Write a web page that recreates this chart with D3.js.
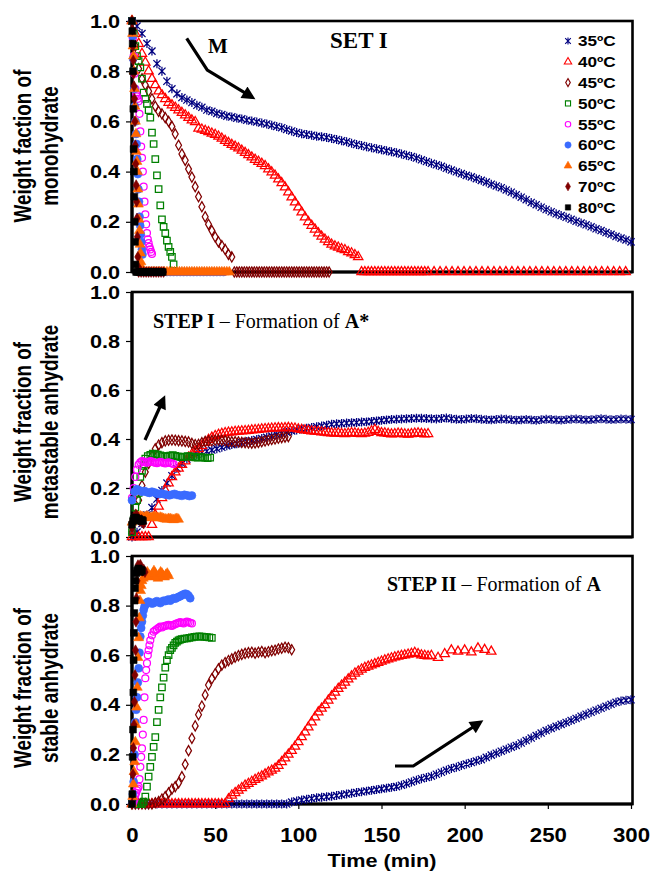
<!DOCTYPE html>
<html>
<head>
<meta charset="utf-8">
<script src="https://cdn.jsdelivr.net/npm/d3@7"></script>
<style>
  body { margin: 0; background: #fff; }
  svg { display: block; }
</style>
</head>
<body>
<svg id="chart" width="650" height="880"></svg>
<script>
// ---------------------------------------------------------------------------
// Data: dehydration kinetics, weight fractions vs. time (min).
// Each series is a list of segments [startTime, timeStep, values].
// ---------------------------------------------------------------------------
const seriesLabels = ["35ºC", "40ºC", "45ºC", "50ºC", "55ºC", "60ºC", "65ºC", "70ºC", "80ºC"];
const xTickValues = [0, 50, 100, 150, 200, 250, 300];
const yTickValues = [0, 0.2, 0.4, 0.6, 0.8, 1.0];

// --- Monohydrate (SET I) ---
const mono35 = [[0, 3, [1.0,0.98,0.95,0.91,0.88,0.83,0.8,0.76,0.73,0.71,
  0.695,0.685,0.675,0.664,0.656,0.645,0.64,0.632,0.627,0.621,
  0.618,0.613,0.61,0.605,0.602,0.598,0.594,0.59,0.585,0.58,
  0.575,0.568,0.562,0.556,0.551,0.548,0.545,0.541,0.539,0.536,
  0.532,0.528,0.523,0.519,0.513,0.508,0.504,0.499,0.495,0.491,
  0.487,0.483,0.479,0.475,0.47,0.465,0.46,0.454,0.447,0.44,
  0.433,0.427,0.421,0.413,0.406,0.399,0.392,0.385,0.379,0.372,
  0.365,0.358,0.35,0.343,0.336,0.327,0.318,0.308,0.298,0.288,
  0.277,0.268,0.258,0.249,0.24,0.232,0.225,0.218,0.21,0.202,
  0.195,0.188,0.18,0.172,0.165,0.157,0.15,0.142,0.135,0.128,0.12]]];
const mono40 = [
  [0, 2, [1.0,0.95,0.91,0.87,0.835,0.8,0.77,0.745,0.72,0.705,
    0.69,0.675,0.665,0.655,0.645,0.635,0.625,0.615,0.605,0.598,
    0.572,0.568,0.563,0.558,0.552,0.547,0.54,0.532,0.523,0.515,
    0.507,0.5,0.493,0.484,0.475,0.466,0.457,0.448,0.44,0.432,
    0.423,0.41,0.398,0.385,0.37,0.355,0.338,0.318,0.298,0.278,
    0.258,0.238,0.218,0.2,0.185,0.17,0.155,0.142,0.13,0.12,
    0.11,0.103,0.098,0.092,0.088,0.08,0.075,0.068,0.06]],
  [138, 2, [0,0,0,0,0,0,0,0,0,0,0,0,0,0,0,0,0,0,0,0,0]],
  [181.6, 3.6, [0,0,0,0,0,0,0,0,0,0,0,0,0,0,0,0,0,0,0,0,0,0,0,0,0,0,0,0,0,0,0,0,0]]
];
const mono45 = [
  [0, 2, [1.0,0.9,0.81,0.77,0.745,0.72,0.69,0.66,0.64,0.63,
    0.615,0.6,0.58,0.55,0.505,0.47,0.445,0.41,0.378,0.34,
    0.3,0.26,0.22,0.19,0.165,0.14,0.12,0.105,0.09,0.07,0.06]],
  [61.5, 1.5, [0,0,0,0,0,0,0,0,0,0,0,0,0,0,0,0,0,0,0,0,0,0,0,0,0,0,0,0,0,0,0,0,0,0,0,0,0,0,0]]
];
const mono50 = [
  [0, 1, [1.0,0.95,0.9,0.86,0.84,0.815,0.77,0.715,0.69,0.67,
    0.645,0.615,0.555,0.51,0.45,0.385,0.33,0.265,0.21,0.18,
    0.155,0.125,0.1,0.08,0.06,0.03]],
  [26.5, 1.5, [0,0,0,0,0,0,0,0,0,0,0,0,0,0,0,0]]
];
const mono55 = [
  [0, 0.5, [1.0,0.93,0.86,0.79,0.73,0.71,0.7,0.69,0.68,0.63,
    0.56,0.5,0.455,0.4,0.34,0.28,0.23,0.19,0.155,0.13,
    0.115,0.1,0.09,0.08,0.072]],
  [13, 2, [0,0,0,0,0,0,0,0,0,0,0,0,0,0,0,0,0,0,0,0,0,0]]
];
const mono60 = [
  [0, 0.35, [1.0,0.94,0.85,0.8,0.73,0.66,0.6,0.55,0.51,0.45,
    0.39,0.33,0.28,0.22,0.185,0.15,0.12,0.09,0.07]],
  [7, 2, [0,0,0,0,0,0,0,0,0,0,0,0,0,0,0,0,0,0,0,0,0,0,0,0,0]]
];
const mono65 = [
  [0, 0.3, [1.0,0.95,0.9,0.86,0.8,0.73,0.66,0.6,0.55,0.48,
    0.44,0.4,0.33,0.27,0.21,0.165,0.11,0.075,0.04,0.02]],
  [6, 1.5, [0,0,0,0,0,0,0,0,0,0,0,0,0,0,0,0,0,0,0,0,0,0,0,0,0,0,0,0,0,0,0,0,0,0,0,0]]
];
const mono70 = [
  [0, 0.25, [1.0,0.965,0.9,0.843,0.79,0.74,0.69,0.6,0.505,0.43,
    0.346,0.28,0.213,0.14,0.06,0.02]],
  [4, 1.5, [0,0,0,0,0,0,0,0,0,0,0]]
];
const mono80 = [
  [0, 0.2, [1.0,0.96,0.91,0.8,0.65,0.49,0.4,0.3,0.2,0.12,0.03]],
  [2.5, 1, [0,0,0,0,0,0,0,0,0,0,0,0,0,0,0,0,0]]
];

// --- Metastable anhydrate A* (STEP I) ---
const meta35 = [[0, 3, [0,0.02,0.055,0.09,0.12,0.155,0.19,0.22,0.25,0.28,
  0.3,0.318,0.33,0.338,0.344,0.35,0.355,0.36,0.366,0.372,
  0.377,0.381,0.385,0.39,0.394,0.398,0.402,0.407,0.412,0.418,
  0.423,0.428,0.433,0.437,0.441,0.444,0.447,0.45,0.453,0.456,
  0.46,0.462,0.463,0.465,0.466,0.467,0.469,0.47,0.472,0.474,
  0.476,0.478,0.48,0.481,0.482,0.483,0.484,0.485,0.485,0.484,
  0.483,0.482,0.484,0.486,0.483,0.481,0.48,0.482,0.484,0.483,
  0.481,0.479,0.478,0.48,0.482,0.481,0.479,0.477,0.478,0.48,
  0.478,0.476,0.479,0.481,0.48,0.478,0.477,0.479,0.481,0.482,
  0.48,0.478,0.479,0.481,0.483,0.481,0.479,0.48,0.482,0.481,0.48]]];
const meta40 = [[0, 2, [0,0,0,0,0,0,0.05,0.09,0.125,0.16,
  0.19,0.22,0.245,0.265,0.28,0.295,0.31,0.325,0.338,0.35,
  0.36,0.372,0.385,0.397,0.406,0.413,0.418,0.422,0.425,0.427,
  0.428,0.43,0.431,0.432,0.433,0.434,0.436,0.437,0.438,0.44,
  0.441,0.442,0.443,0.444,0.445,0.444,0.445,0.446,0.444,0.443,
  0.44,0.438,0.436,0.434,0.432,0.431,0.43,0.428,0.427,0.425,
  0.424,0.423,0.424,0.422,0.421,0.423,0.425,0.424,0.422,0.421,
  0.423,0.426,0.432,0.438,0.43,0.425,0.424,0.422,0.42,0.421,
  0.423,0.422,0.42,0.419,0.421,0.423,0.424,0.422,0.42,0.421]]];
const meta45 = [[0, 2, [0.02,0.09,0.15,0.21,0.265,0.3,0.33,0.36,0.375,0.385,
  0.392,0.395,0.396,0.395,0.393,0.392,0.39,0.388,0.382,0.377,
  0.378,0.385,0.39,0.392,0.393,0.395,0.396,0.395,0.393,0.39,
  0.389,0.389,0.388,0.386,0.385,0.384,0.383,0.384,0.386,0.389,
  0.392,0.395,0.398,0.4,0.403,0.406,0.408,0.41]]];
const meta50 = [
  [0, 1, [0.02,0.07,0.12,0.15,0.18,0.245,0.27,0.29,0.32]],
  [9.5, 1.5, [0.33,0.335,0.34,0.338,0.336,0.333,0.33,0.328,0.33,0.332,
    0.334,0.331,0.329,0.327,0.326,0.328,0.33,0.329,0.327,0.325,
    0.324,0.326,0.325,0.323,0.322,0.324]]
];
const meta55 = [[0, 1, [0.16,0.2,0.245,0.275,0.295,0.305,0.31,0.308,0.305,0.303,
  0.306,0.31,0.308,0.305,0.303,0.301,0.304,0.307,0.305,0.302,
  0.3,0.303,0.305,0.302,0.3,0.298]]];
const meta60 = [[0, 1.5, [0.15,0.185,0.195,0.19,0.185,0.188,0.183,0.18,0.185,0.182,
  0.178,0.175,0.178,0.174,0.172,0.17,0.173,0.176,0.172,0.17,
  0.168,0.172,0.17,0.167,0.169]]];
const meta65 = [[0, 1, [0.06,0.07,0.075,0.08,0.082,0.085,0.083,0.08,0.082,0.084,
  0.081,0.078,0.08,0.083,0.082,0.079,0.077,0.08,0.078,0.075,
  0.073,0.072,0.075,0.074,0.072,0.07,0.073,0.075,0.072]]];
const meta70 = [[0, 0.7, [0.04,0.06,0.075,0.085,0.09,0.08,0.07,0.065,0.07,0.06,0.055]]];
const meta80 = [[0, 0.6, [0.05,0.065,0.075,0.08,0.078,0.072,0.07,0.074,0.068,0.065,0.07,0.066]]];

// --- Stable anhydrate A (STEP II) ---
const stab35 = [[0, 3, [0,0,0,0,0,0,0,0,0,0,0,0,0,0,0,0,0,0,0,0,0,0,0,0,0,0,0,0,0,0,0,0,
  0.008,0.012,0.016,0.019,0.022,0.025,0.027,0.029,0.031,0.034,
  0.037,0.04,0.043,0.046,0.049,0.052,0.055,0.058,0.061,0.064,
  0.067,0.07,0.076,0.082,0.089,0.096,0.102,0.107,0.112,0.12,
  0.128,0.136,0.143,0.148,0.155,0.161,0.167,0.173,0.179,0.188,
  0.197,0.205,0.213,0.221,0.229,0.236,0.246,0.256,0.266,0.276,
  0.286,0.296,0.305,0.313,0.321,0.329,0.337,0.345,0.354,0.362,
  0.37,0.378,0.386,0.394,0.402,0.41,0.415,0.418,0.42]]];
const stab40 = [
  [0, 2, [0,0,0,0,0,0,0,0,0,0,0,0,0,0,0,0,0,0,0,0,0,0,0,0,0,0,0,0,0,
    0.02,0.035,0.045,0.055,0.065,0.075,0.082,0.09,0.098,0.105,
    0.112,0.12,0.128,0.135,0.143,0.155,0.17,0.185,0.2,0.215,
    0.232,0.25,0.27,0.29,0.31,0.33,0.35,0.37,0.385,0.4,
    0.418,0.435,0.45,0.465,0.478,0.49,0.503,0.515,0.527,0.535,
    0.543,0.55,0.555,0.56,0.565,0.57,0.575,0.58,0.584,0.588,
    0.592,0.595,0.598,0.6,0.603,0.606,0.61,0.605,0.6,0.598,
    0.596,0.598]],
  [184, 4, [0.59,0.605,0.62,0.615,0.62,0.612,0.628,0.622,0.615]]
];
const stab45 = [[0, 2, [0,0,0,0,0,0,0,0.005,0.01,0.02,
  0.03,0.045,0.06,0.07,0.085,0.11,0.16,0.215,0.265,0.315,
  0.36,0.395,0.44,0.48,0.505,0.525,0.545,0.56,0.57,0.578,
  0.585,0.592,0.598,0.603,0.607,0.61,0.612,0.608,0.612,0.615,
  0.61,0.614,0.618,0.62,0.625,0.628,0.632,0.63,0.622]]];
const stab50 = [
  [0, 1, [0,0,0,0,0,0,0,0.01,0.03,0.07,
    0.11,0.15,0.19,0.23,0.27,0.33,0.38,0.43,0.47,0.51,
    0.55,0.58,0.6,0.62,0.63,0.64,0.65,0.655,0.66,0.663,0.665]],
  [31.5, 1.5, [0.667,0.668,0.67,0.672,0.674,0.675,0.676,0.675,0.674,0.673,0.672,0.67]]
];
const stab55 = [
  [0, 0.5, [0,0,0.01,0.02,0.036,0.045,0.055,0.062,0.07,0.1,
    0.15,0.19,0.224,0.28,0.339,0.43,0.507,0.54,0.568,0.6,
    0.62,0.64,0.66]],
  [12, 1, [0.68,0.695,0.7,0.705,0.71,0.715,0.712,0.716,0.718,0.72,
    0.722,0.72,0.718,0.722,0.725,0.728,0.73,0.733,0.73,0.728,
    0.732,0.735,0.733,0.73,0.728]]
];
const stab60 = [
  [0, 0.5, [0,0.04,0.09,0.2,0.33,0.38,0.43,0.49,0.547,0.61,
    0.675,0.71,0.735,0.76,0.782,0.795,0.803,0.81,0.812,0.815,0.816]],
  [11, 1, [0.812,0.808,0.81,0.815,0.818,0.814,0.81,0.816,0.82,0.818,
    0.822,0.825,0.82,0.826,0.83,0.828,0.832,0.835,0.838,0.842,
    0.845,0.848,0.846,0.84,0.83]]
];
const stab65 = [
  [0, 0.4, [0,0.03,0.08,0.13,0.17,0.25,0.32,0.39,0.47,0.59,
    0.67,0.75,0.82,0.86,0.88,0.9]],
  [6.8, 0.8, [0.91,0.92,0.93,0.935,0.925,0.915,0.92,0.93,0.94,0.93,
    0.92,0.91,0.925,0.935,0.93,0.92,0.915,0.925,0.93,0.92]]
];
const stab70 = [
  [0, 0.3, [0,0.04,0.12,0.226,0.32,0.412,0.52,0.62,0.735,0.83,0.9,0.94,0.963]],
  [4.3, 0.7, [0.955,0.965,0.95,0.94,0.945,0.935]]
];
const stab80 = [
  [0, 0.2, [0,0.04,0.19,0.3,0.45,0.58,0.69,0.77,0.82,0.87,0.9]],
  [2.5, 0.5, [0.93,0.94,0.945,0.95,0.94,0.935,0.945,0.94]]
];

const monoSeries = [mono35, mono40, mono45, mono50, mono55, mono60, mono65, mono70, mono80];
const metaSeries = [meta35, meta40, meta45, meta50, meta55, meta60, meta65, meta70, meta80];
const stabSeries = [stab35, stab40, stab45, stab50, stab55, stab60, stab65, stab70, stab80];

// ---------------------------------------------------------------------------
// Appearance
// ---------------------------------------------------------------------------
// Asterisk-style marker: an "x" crossed by a vertical bar.
const symbolStar = {
  draw(ctx, size) {
    const r = Math.sqrt(size) / 2;
    const d = r * 0.8;
    ctx.moveTo(0, -r); ctx.lineTo(0, r);
    ctx.moveTo(-d, -d); ctx.lineTo(d, d);
    ctx.moveTo(-d, d); ctx.lineTo(d, -d);
  }
};

const markerStyles = [
  { type: symbolStar,         color: "#000080", filled: false, size: 80 },
  { type: d3.symbolTriangle,  color: "#ff0000", filled: false, size: 38 },
  { type: d3.symbolDiamond,   color: "#800000", filled: false, size: 30 },
  { type: d3.symbolSquare,    color: "#008000", filled: false, size: 42 },
  { type: d3.symbolCircle,    color: "#ff00ff", filled: false, size: 38 },
  { type: d3.symbolCircle,    color: "#3a6bff", filled: true,  size: 50 },
  { type: d3.symbolTriangle,  color: "#ff6600", filled: true,  size: 42 },
  { type: d3.symbolDiamond,   color: "#800000", filled: true,  size: 34 },
  { type: d3.symbolSquare,    color: "#000000", filled: true,  size: 46 }
];
const legendMarkerScale = 0.62;

const plotLeft = 132, plotRight = 631, frameRight = 632.5;
const panelBoxes = [
  { top: 21,  bottom: 272, series: monoSeries, title: ["Weight faction of", "monohydrate"], titleY: 146, xLabels: false },
  { top: 292, bottom: 537, series: metaSeries, title: ["Weight fraction of", "metastable anhydrate"], titleY: 422, xLabels: false },
  { top: 556, bottom: 804, series: stabSeries, title: ["Weight fraction of", "stable anhydrate"], titleY: 688, xLabels: true }
];

const sansBold = "'Liberation Sans', Arial, Helvetica, sans-serif";
const serif = "'Liberation Serif', 'Times New Roman', Times, serif";

// Expand segment lists into {t, v} points.
function expand(segments) {
  const pts = [];
  segments.forEach(([t0, dt, vals]) => {
    vals.forEach((v, i) => pts.push({ t: t0 + i * dt, v }));
  });
  return pts;
}

const svg = d3.select("#chart");
const x = d3.scaleLinear().domain([0, 300]).range([plotLeft, plotRight]);

// Arrowhead definition for annotation arrows
svg.append("defs").append("marker")
  .attr("id", "arrowhead")
  .attr("viewBox", "0 0 10 10")
  .attr("refX", 7).attr("refY", 5)
  .attr("markerWidth", 4.8).attr("markerHeight", 4.2)
  .attr("orient", "auto")
  .attr("markerUnits", "strokeWidth")
  .append("path").attr("d", "M0,0 L10,5 L0,10 Z").attr("fill", "#000");

panelBoxes.forEach(panel => {
  const y = d3.scaleLinear().domain([0, 1]).range([panel.bottom, panel.top]);
  const g = svg.append("g");

  // Frame
  g.append("rect")
    .attr("x", plotLeft).attr("y", panel.top)
    .attr("width", frameRight - plotLeft).attr("height", panel.bottom - panel.top)
    .attr("fill", "none").attr("stroke", "#000").attr("stroke-width", 2.6);

  // Y axis
  const yAxis = g.append("g")
    .attr("transform", `translate(${plotLeft},0)`)
    .call(d3.axisLeft(y).tickValues(yTickValues).tickFormat(d3.format(".1f")).tickSize(6).tickPadding(6));
  yAxis.select(".domain").attr("stroke-width", 3.2).attr("d", `M0,${panel.top}V${panel.bottom}`);
  yAxis.selectAll(".tick line").attr("stroke-width", 1.2);
  yAxis.selectAll(".tick text")
    .attr("font-family", sansBold).attr("font-weight", "bold").attr("font-size", 19)
    .attr("fill", "#000")
    .attr("transform", "scale(1.14,1)")
    .attr("x", -12 / 1.14);

  // X axis line (bottom of panel)
  const xAxis = g.append("g")
    .attr("transform", `translate(0,${panel.bottom})`)
    .call(d3.axisBottom(x).tickValues(xTickValues).tickSize(panel.xLabels ? 5 : 0).tickPadding(panel.xLabels ? 19 : 0));
  xAxis.select(".domain").attr("stroke-width", 3.2).attr("d", `M${plotLeft},0H${frameRight}`);
  xAxis.selectAll(".tick line").attr("stroke-width", 1.2);
  if (panel.xLabels) {
    xAxis.selectAll(".tick text")
      .attr("font-family", sansBold).attr("font-weight", "bold").attr("font-size", 19.5)
      .attr("fill", "#000")
      .attr("transform", "scale(1.14,1)");
  } else {
    xAxis.selectAll(".tick text").remove();
  }

  // Y axis title (two lines, rotated; glyphs drawn slightly condensed)
  panel.title.forEach((line, i) => {
    svg.append("text")
      .attr("transform", `translate(${i === 0 ? 31 : 58},${panel.titleY}) rotate(-90) scale(0.9,1.12)`)
      .attr("text-anchor", "middle")
      .attr("font-family", sansBold).attr("font-weight", "bold").attr("font-size", 21)
      .attr("fill", "#000")
      .text(line);
  });

  // Data markers, drawn 35ºC first so the hotter runs sit on top
  panel.series.forEach((segments, si) => {
    const st = markerStyles[si];
    const sym = d3.symbol().type(st.type).size(st.size);
    g.append("g").selectAll("path")
      .data(expand(segments))
      .join("path")
      .attr("transform", d => `translate(${x(d.t)},${y(d.v)})`)
      .attr("d", sym)
      .attr("fill", st.filled ? st.color : "none")
      .attr("stroke", st.color)
      .attr("stroke-width", st.filled ? 0.6 : 1.25);
  });
});

// X axis title
svg.append("text")
  .attr("transform", "translate(382,867) scale(1.14,1)")
  .attr("text-anchor", "middle")
  .attr("font-family", sansBold).attr("font-weight", "bold").attr("font-size", 19)
  .text("Time (min)");

// Legend
const legend = svg.append("g");
seriesLabels.forEach((label, i) => {
  const cy = 41 + i * 20.8;
  const st = markerStyles[i];
  legend.append("path")
    .attr("transform", `translate(568,${cy})`)
    .attr("d", d3.symbol().type(st.type).size(st.size * legendMarkerScale))
    .attr("fill", st.filled ? st.color : "none")
    .attr("stroke", st.color)
    .attr("stroke-width", st.filled ? 0.6 : 1.1);
  legend.append("text")
    .attr("transform", `translate(578,${cy + 5.3}) scale(1.16,1)`)
    .attr("font-family", sansBold).attr("font-weight", "bold").attr("font-size", 14.8)
    .text(label);
});

// Annotations
const ann = svg.append("g");
ann.append("text")
  .attr("x", 330).attr("y", 48)
  .attr("font-family", serif).attr("font-weight", "bold").attr("font-size", 23)
  .text("SET I");
ann.append("text")
  .attr("x", 218).attr("y", 53).attr("text-anchor", "middle")
  .attr("font-family", serif).attr("font-weight", "bold").attr("font-size", 21)
  .text("M");

const step1 = ann.append("text")
  .attr("x", 153).attr("y", 328)
  .attr("font-family", serif).attr("font-size", 20);
step1.append("tspan").attr("font-weight", "bold").text("STEP I");
step1.append("tspan").text(" – Formation of ");
step1.append("tspan").attr("font-weight", "bold").text("A*");

const step2 = ann.append("text")
  .attr("x", 387).attr("y", 591)
  .attr("font-family", serif).attr("font-size", 20);
step2.append("tspan").attr("font-weight", "bold").text("STEP II");
step2.append("tspan").text(" – Formation of ");
step2.append("tspan").attr("font-weight", "bold").text("A");

const arrowLine = d3.line();
[
  [[186.7, 38.3], [207.3, 70], [252, 97.2]],
  [[145, 440], [163.5, 399]],
  [[395, 766], [413.3, 766], [480, 722.5]]
].forEach(pts => {
  ann.append("path")
    .attr("d", arrowLine(pts))
    .attr("fill", "none").attr("stroke", "#000").attr("stroke-width", 3.2)
    .attr("stroke-linejoin", "miter")
    .attr("marker-end", "url(#arrowhead)");
});
</script>
</body>
</html>
